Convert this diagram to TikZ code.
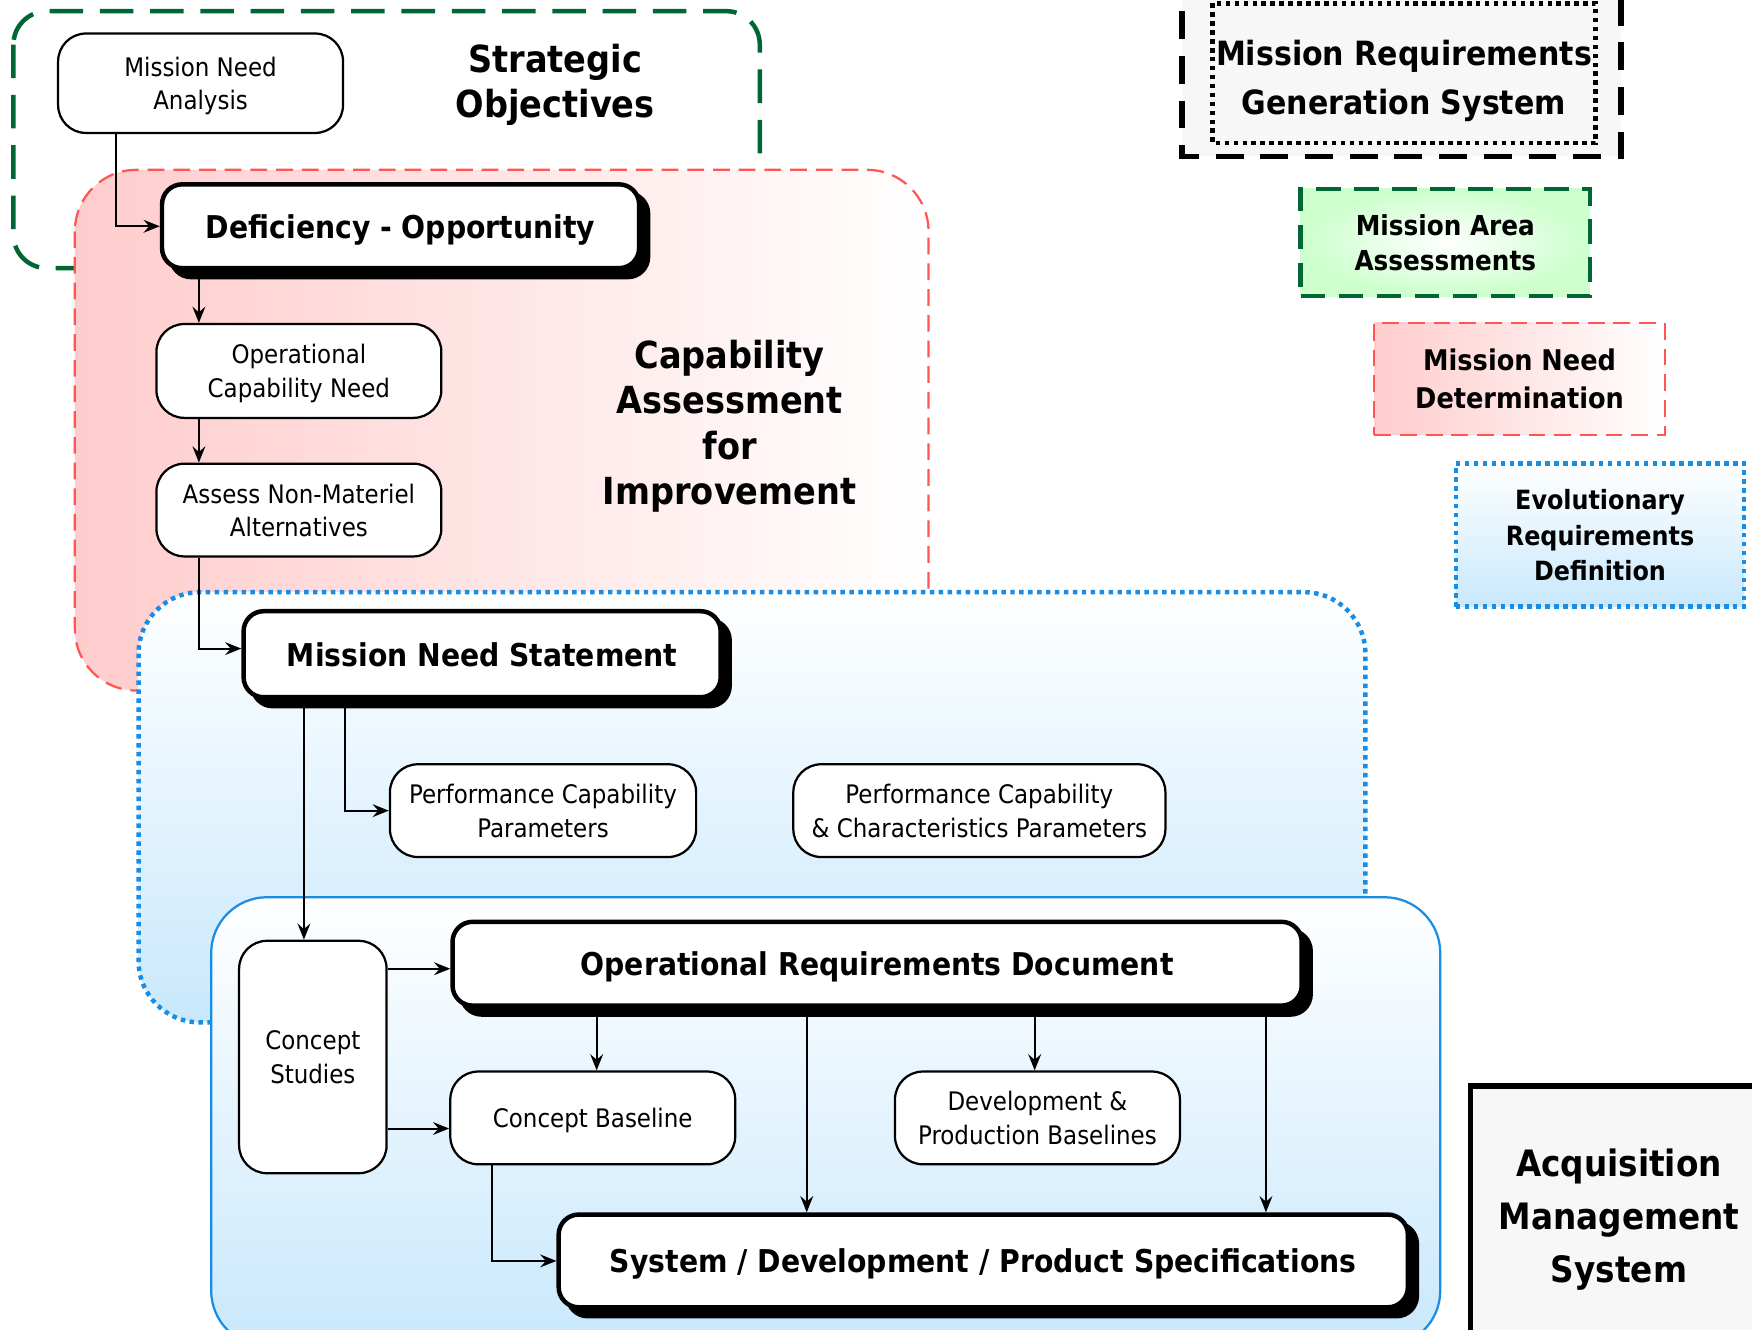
\documentclass[tikz,border=0pt]{standalone}
\usepackage{fontspec}
\setmainfont{DejaVu Sans Condensed}
\usetikzlibrary{shadows,arrows.meta}
\definecolor{dkgreen}{RGB}{0,102,51}
\definecolor{redline}{RGB}{255,85,85}
\definecolor{pinkfill}{RGB}{255,204,204}
\definecolor{blueline}{RGB}{25,140,230}
\definecolor{bluefill}{RGB}{200,232,252}
\definecolor{greenfill}{RGB}{204,255,204}
\definecolor{grayfill}{RGB}{247,247,247}
\tikzset{
	smallbox/.style={draw, line width=0.4mm, fill=white, rounded corners=5mm, align=center, inner sep=0pt, text depth=0pt,
		font=\fontsize{13}{17}\selectfont, minimum width=51mm, minimum height=16.6mm},
	bigbox/.style={draw, line width=0.8mm, fill=white, rounded corners=3.6mm, align=center, text depth=0pt,
		font=\fontsize{16}{20}\selectfont\bfseries, minimum height=15mm,
		drop shadow={shadow xshift=1.6mm, shadow yshift=-1.6mm, opacity=1, fill=black, draw=black, line width=0.8mm}},
	areatitle/.style={align=center, text depth=0pt, font=\fontsize{19}{23}\selectfont\bfseries},
	legendbox/.style={align=center, inner sep=0pt, text depth=0pt, font=\fontsize{14}{18}\selectfont\bfseries},
	flow/.style={-{Stealth[length=2.9mm, width=2.3mm, inset=1mm]}, line width=0.35mm}
}
\begin{document}
\begin{tikzpicture}[x=0.2mm,y=-0.2mm]
	\useasboundingbox (0,0) rectangle (1568,1190);
	% areas
	\draw [dkgreen, line width=0.8mm, dash pattern=on 6mm off 3mm, rounded corners=6mm] (12,10) rectangle (680,240);
	\path [draw=redline, line width=0.4mm, dash pattern=on 3mm off 1.6mm, rounded corners=11mm,
		left color=pinkfill, middle color=pinkfill!40, right color=white] (67,152) rectangle (831,618);
	\path [draw=blueline, line width=0.8mm, dash pattern=on 0.8mm off 0.8mm, rounded corners=11mm,
		top color=white, bottom color=bluefill] (124,530) rectangle (1222,915);
	\path [draw=blueline, line width=0.4mm, rounded corners=10mm,
		top color=white, bottom color=bluefill] (189,803) rectangle (1289,1205);

	% boxes
	\node [smallbox, minimum height=17.8mm] (mna) at (179.5,74.5) {Mission Need\\Analysis};
	\node [areatitle] (strat) at (497,72) {Strategic\\Objectives};
	\node [bigbox, minimum width=85.4mm] (defopp) at (358.5,202.5) {Deficiency - Opportunity};
	\node [smallbox, minimum height=16.8mm] (ocn) at (267.5,332) {Operational\\Capability Need};
	\node [smallbox] (anma) at (267.5,456.5) {Assess Non-Materiel\\Alternatives};
	\node [areatitle] (cai) at (653,378) {Capability\\Assessment\\for\\Improvement};
	\node [bigbox, minimum width=85.4mm, minimum height=15.4mm] (mns) at (431.5,585.5) {Mission Need Statement};
	\node [smallbox, minimum width=54.8mm] (pcp) at (486,725.5) {Performance Capability\\Parameters};
	\node [smallbox, minimum width=66.6mm] (pccp) at (876.5,725.5) {Performance Capability\\\& Characteristics Parameters};
	\node [smallbox, minimum width=26.4mm, minimum height=41.6mm] (cs) at (280,946) {Concept\\Studies};
	\node [bigbox, minimum width=152mm] (ord) at (785,862.5) {Operational Requirements Document};
	\node [smallbox] (cb) at (530.5,1000.5) {Concept Baseline};
	\node [smallbox] (dpb) at (928.5,1000.5) {Development \&\\Production Baselines};
	\node [bigbox, minimum width=152mm, minimum height=16.6mm] (sdps) at (880,1128.5) {System / Development / Product Specifications};

	% arrows
	\draw [flow] (mna.south -| 104,0) |- (defopp.west);
	\draw [flow] (defopp.south -| 178,0) -- (ocn.north -| 178,0);
	\draw [flow] (ocn.south -| 178,0) -- (anma.north -| 178,0);
	\draw [flow] (anma.south -| 178,0) |- ([yshift=1mm]mns.west);
	\draw [flow] (mns.south -| 272,0) -- (cs.north -| 272,0);
	\draw [flow] (mns.south -| 309,0) |- (pcp.west);
	\draw [flow] (cs.east |- 0,867) -- (ord.west |- 0,867);
	\draw [flow] (cs.east |- 0,1010) -- (cb.west |- 0,1010);
	\draw [flow] (ord.south -| 534,0) -- (cb.north -| 534,0);
	\draw [flow] (ord.south -| 722,0) -- (sdps.north -| 722,0);
	\draw [flow] (ord.south -| 926,0) -- (dpb.north -| 926,0);
	\draw [flow] (ord.south -| 1133,0) -- (sdps.north -| 1133,0);
	\draw [flow] (cb.south -| 440,0) |- (sdps.west);

	% legend
	\path [draw, line width=1mm, dash pattern=on 5mm off 3mm, fill=grayfill] (1058,-30) rectangle (1451,140);
	\draw [line width=0.8mm, dash pattern=on 0.8mm off 0.8mm] (1085,3) rectangle (1428,128);
	\node [legendbox, font=\fontsize{17}{25}\selectfont\bfseries] (mrgs) at (1256.5,69) {Mission Requirements\\Generation System};
	\node [legendbox, draw=dkgreen, line width=0.8mm, dash pattern=on 4.4mm off 2.4mm, inner color=white, outer color=greenfill,
		minimum width=51.8mm, minimum height=19.2mm] (maa) at (1293.5,217) {Mission Area\\Assessments};
	\node [legendbox, draw=redline, line width=0.4mm, dash pattern=on 3mm off 1.6mm, left color=pinkfill, middle color=pinkfill!45, right color=white,
		minimum width=52mm, minimum height=20mm, font=\fontsize{14.5}{19}\selectfont\bfseries] (mnd) at (1360,339) {Mission Need\\Determination};
	\node [legendbox, draw=blueline, line width=0.8mm, dash pattern=on 0.8mm off 0.8mm, top color=white, bottom color=bluefill,
		minimum width=51.6mm, minimum height=25.6mm, font=\fontsize{13.5}{18}\selectfont\bfseries] (erd) at (1432,479) {Evolutionary\\Requirements\\Definition};
	\path [draw, line width=1mm, fill=grayfill] (1316,972) rectangle (1620,1250);
	\node [areatitle, font=\fontsize{18.5}{27}\selectfont\bfseries] (ams) at (1449,1088) {Acquisition\\Management\\System};
\end{tikzpicture}
\end{document}
